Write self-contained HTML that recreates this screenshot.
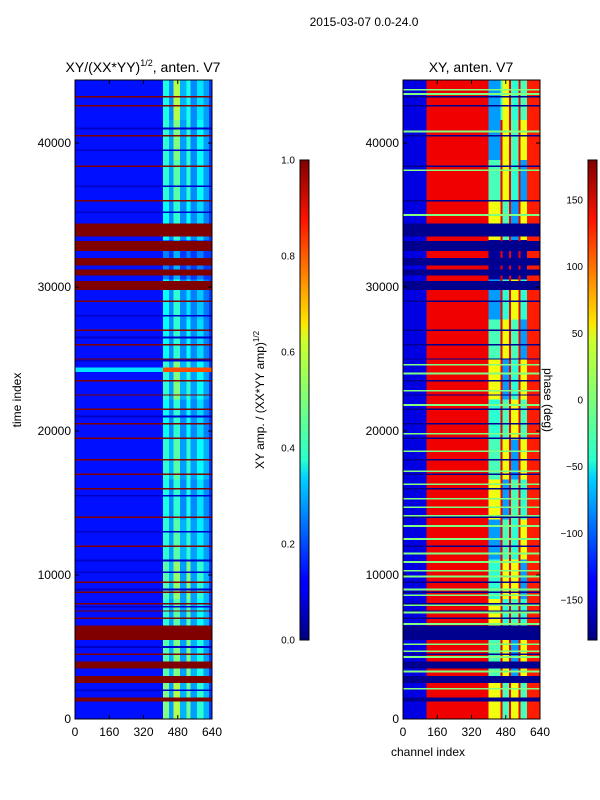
<!DOCTYPE html>
<html><head><meta charset="utf-8">
<style>
body{margin:0;background:#fff;}
svg{display:block;font-family:"Liberation Sans",sans-serif;}
</style></head>
<body>
<svg id="fig" width="600" height="800" viewBox="0 0 600 800">
<defs>
<linearGradient id="jet" x1="0" y1="1" x2="0" y2="0">
<stop offset="0" stop-color="#00007f"/><stop offset="0.11" stop-color="#0000ff"/>
<stop offset="0.125" stop-color="#0000ff"/><stop offset="0.34" stop-color="#00d4ff"/>
<stop offset="0.375" stop-color="#29ffce"/><stop offset="0.5" stop-color="#7dff7a"/>
<stop offset="0.625" stop-color="#ceff29"/><stop offset="0.66" stop-color="#ffe600"/>
<stop offset="0.875" stop-color="#ff1300"/><stop offset="1" stop-color="#7f0000"/>
</linearGradient>
</defs>
<text x="364" y="26" font-size="12" text-anchor="middle">2015-03-07 0.0-24.0</text>
<text x="143" y="72" font-size="14" text-anchor="middle">XY/(XX*YY)<tspan font-size="9" dy="-6">1/2</tspan><tspan dy="6">, anten. V7</tspan></text>
<text x="471" y="72" font-size="14" text-anchor="middle">XY, anten. V7</text>
<text transform="translate(21,400) rotate(-90)" font-size="12" text-anchor="middle">time index</text>
<text x="428" y="756" font-size="12" text-anchor="middle">channel index</text>
<text transform="translate(264,400) rotate(-90)" font-size="12" text-anchor="middle">XY amp. / (XX*YY amp)<tspan font-size="8" dy="-5">1/2</tspan></text>
<g id="left"></g>
<g id="right"></g>
<g id="axes"></g>
<rect x="300" y="160" width="9" height="480" fill="url(#jet)" stroke="#000" stroke-width="1"/>
<rect x="588" y="160" width="9" height="480" fill="url(#jet)" stroke="#000" stroke-width="1"/>
<text transform="translate(544,400) rotate(90)" font-size="12" text-anchor="middle">phase (deg)</text>
</svg>
<script>
// ---- data ----
const timeMax = 44375;
const chanMax = 640;
const xTicks = [0,160,320,480,640];
const yTicks = [0,10000,20000,30000,40000];
const ampTicks = [0.0,0.2,0.4,0.6,0.8,1.0];
const phaseTicks = [-150,-100,-50,0,50,100,150];
const ampBaseCh = [[0,410,0.14],[410,640,0.18]];
const ampNoiseEdges = [410,440,460,490,520,540,570,600,625];
const ampNoise = [
[0.5,0.28,0.55,0.3,0.48,0.28,0.42,0.3],
[0.46,0.3,0.5,0.28,0.5,0.3,0.4,0.28],
[0.42,0.28,0.46,0.28,0.46,0.28,0.38,0.3],
[0.46,0.3,0.52,0.28,0.5,0.28,0.42,0.3],
[0.42,0.28,0.46,0.3,0.42,0.28,0.36,0.28],
[0.4,0.26,0.42,0.26,0.4,0.26,0.35,0.26],
[0.42,0.3,0.46,0.28,0.42,0.28,0.38,0.3],
[0.38,0.26,0.42,0.26,0.38,0.26,0.34,0.25],
[0.42,0.28,0.5,0.3,0.42,0.28,0.38,0.28],
[0.38,0.26,0.42,0.26,0.38,0.26,0.34,0.25],
[0.38,0.26,0.42,0.26,0.35,0.25,0.32,0.24],
[0.25,0.18,0.3,0.18,0.25,0.18,0.25,0.18],
[0.38,0.26,0.42,0.26,0.38,0.26,0.34,0.25],
[0.42,0.28,0.46,0.28,0.42,0.26,0.38,0.28],
[0.42,0.28,0.5,0.28,0.42,0.26,0.38,0.28],
[0.4,0.26,0.55,0.3,0.4,0.26,0.35,0.28]];
const ampFlagBands = [[33500,34400],[32500,33200],[31500,32000],[30800,31200],[29800,30400],[5500,6500],[3500,4000],[2500,3000],[1200,1500]];
const ampFlagLines = [43200,42600,40500,38400,36000,29000,27000,26000,25000,23500,22500,21500,20500,19500,18000,17000,16000,14000,12000,9500,8800,8000,7500,7000,4500];
const ampDarkLines = [41000,39500,37000,35200,28000,26500,24900,21000,15500,13000,11000,10200,9000,7800,5000,2000];
const ampBrightRow = [[24100,24400,0.35,0.8]];
const phaseBaseCh = [[0,110,-145],[110,400,140],[400,580,-20],[580,640,125]];
const phaseNoiseEdges = [400,455,465,495,505,540,550,580];
const phaseNoise = [
[40,140,-20,140,40,140,-20],
[-20,140,40,140,-80,140,40],
[40,140,-30,140,-20,140,-30],
[-30,140,40,140,40,140,-80],
[-80,140,-20,140,-30,140,40],
[40,140,-80,140,-20,140,-30],
[-20,140,40,140,-80,140,40],
[-30,140,-20,140,40,140,-20],
[40,140,-80,140,-30,140,40],
[-20,140,40,140,-20,140,-80],
[-80,140,-30,140,40,140,-30],
[-170,140,-170,140,-170,140,-170],
[40,140,-20,140,-80,140,40],
[-20,140,40,140,-30,140,-80],
[-80,140,40,140,-20,140,40],
[-80,-20,40,140,-30,140,-20]];
const phaseGreenLines = [43700,43400,40800,38100,35000,24600,24000,22800,21800,19800,18600,17200,16300,15300,14700,14100,13400,12500,12000,11500,10900,10300,9900,9000,8600,7900,7400,6600,5900,5200,4700,4300,3800,3300,2600,2100,1300];
const phaseBlueBands = [[33500,34400],[32500,33200],[31500,32000],[30800,31200],[29800,30400],[5500,6500],[3500,4000],[2500,3000],[1200,1500]];
const phaseBlueLines = [43200,42600,40500,38400,36000,29000,27000,26000,25000,23500,22500,21500,20500,19500,18000,17000,16000,14000,12000,9500,8800,8000,7500,7000,4500];

// ---- helpers ----
const NS="http://www.w3.org/2000/svg";
function jet(v){v=Math.max(0,Math.min(1,v));const c=x=>Math.round(255*Math.max(0,Math.min(1,1.5-Math.abs(4*v-x))));return `rgb(${c(3)},${c(2)},${c(1)})`;}
const yT=t=>719-t/timeMax*639;
const xL=ch=>75+ch/chanMax*137;
const xR=ch=>403+ch/chanMax*137;
const ph=p=>(p+180)/360;
function rect(g,x,y,w,h,fill,name){const r=document.createElementNS(NS,'rect');r.setAttribute('x',x);r.setAttribute('y',y);r.setAttribute('width',Math.max(w,0.1));r.setAttribute('height',Math.max(h,1));r.setAttribute('fill',fill);r.setAttribute('shape-rendering','crispEdges');


g.appendChild(r);return r;}
function text(g,x,y,s,anchor,size,name){const t=document.createElementNS(NS,'text');t.setAttribute('x',x);t.setAttribute('y',y);t.setAttribute('font-size',size);t.setAttribute('text-anchor',anchor);t.textContent=s;


g.appendChild(t);}
function line(g,x1,y1,x2,y2,name){const l=document.createElementNS(NS,'line');l.setAttribute('x1',x1);l.setAttribute('y1',y1);l.setAttribute('x2',x2);l.setAttribute('y2',y2);l.setAttribute('stroke','#000');l.setAttribute('stroke-width',1);


g.appendChild(l);}

function drawPanel(g,xf,baseCh,edges,grid,colorOf,flagBands,flagLines,flagColor,extraLines,extraColor,cellName){
  const nb=grid.length, dt=timeMax/nb;
  baseCh.forEach(b=>rect(g,xf(b[0]),yT(timeMax),xf(b[1])-xf(b[0]),yT(0)-yT(timeMax),colorOf(b[2]),'base-band'));
  grid.forEach((row,i)=>row.forEach((v,j)=>{
    rect(g,xf(edges[j]),yT((i+1)*dt),xf(edges[j+1])-xf(edges[j]),yT(i*dt)-yT((i+1)*dt),colorOf(v),cellName);
  }));
  extraLines.forEach(t=>rect(g,xf(0),yT(t+60),xf(chanMax)-xf(0),yT(t-60)-yT(t+60),extraColor,'row-line'));
  flagBands.forEach(b=>rect(g,xf(0),yT(b[1]),xf(chanMax)-xf(0),yT(b[0])-yT(b[1]),flagColor,'flagged-band'));
  flagLines.forEach(t=>rect(g,xf(0),yT(t+50),xf(chanMax)-xf(0),yT(t-50)-yT(t+50),flagColor,'flagged-row'));
}
const L=document.getElementById('left'),R=document.getElementById('right');
drawPanel(L,xL,ampBaseCh,ampNoiseEdges,ampNoise,jet,ampFlagBands,ampFlagLines,jet(1),ampDarkLines,jet(0.07),'amp-cell');
ampBrightRow.forEach(b=>{rect(L,xL(0),yT(b[1]),xL(410)-xL(0),yT(b[0])-yT(b[1]),jet(b[2]),'bright-row');rect(L,xL(410),yT(b[1]),xL(640)-xL(410),yT(b[0])-yT(b[1]),jet(b[3]),'bright-row');});
drawPanel(R,xR,phaseBaseCh,phaseNoiseEdges,phaseNoise,p=>jet(ph(p)),phaseBlueBands,phaseBlueLines,jet(ph(-175)),phaseGreenLines,jet(ph(0)),'phase-cell');

const A=document.getElementById('axes');
[[75,xL],[403,xR]].forEach(([x0,xf],k)=>{
  const fr=document.createElementNS(NS,'rect');fr.setAttribute('x',x0);fr.setAttribute('y',80);fr.setAttribute('width',137);fr.setAttribute('height',639);fr.setAttribute('fill','none');fr.setAttribute('stroke','#000');
  
  
  A.appendChild(fr);
  xTicks.forEach(c=>{const x=xf(c);line(A,x,719,x,715,'x-tick');line(A,x,80,x,84,'x-tick');text(A,x,736,String(c),'middle',12,'x-tick-label');});
  yTicks.forEach(t=>{const y=yT(t);line(A,x0,y,x0+4,y,'y-tick');line(A,x0+137,y,x0+133,y,'y-tick');text(A,x0-4,y+4,String(t),'end',12,'y-tick-label');});
});
ampTicks.forEach(v=>{const y=640-v*480;line(A,300,y,303,y,'colorbar-tick');line(A,309,y,306,y,'colorbar-tick');text(A,295,y+3.5,v.toFixed(1),'end',10,'amp-colorbar-tick-label');});
phaseTicks.forEach(v=>{const y=640-ph(v)*480;line(A,588,y,591,y,'colorbar-tick');line(A,597,y,594,y,'colorbar-tick');text(A,583,y+3.5,v<0?'\u2212'+(-v):String(v),'end',10,'phase-colorbar-tick-label');});
</script>
</body></html>
